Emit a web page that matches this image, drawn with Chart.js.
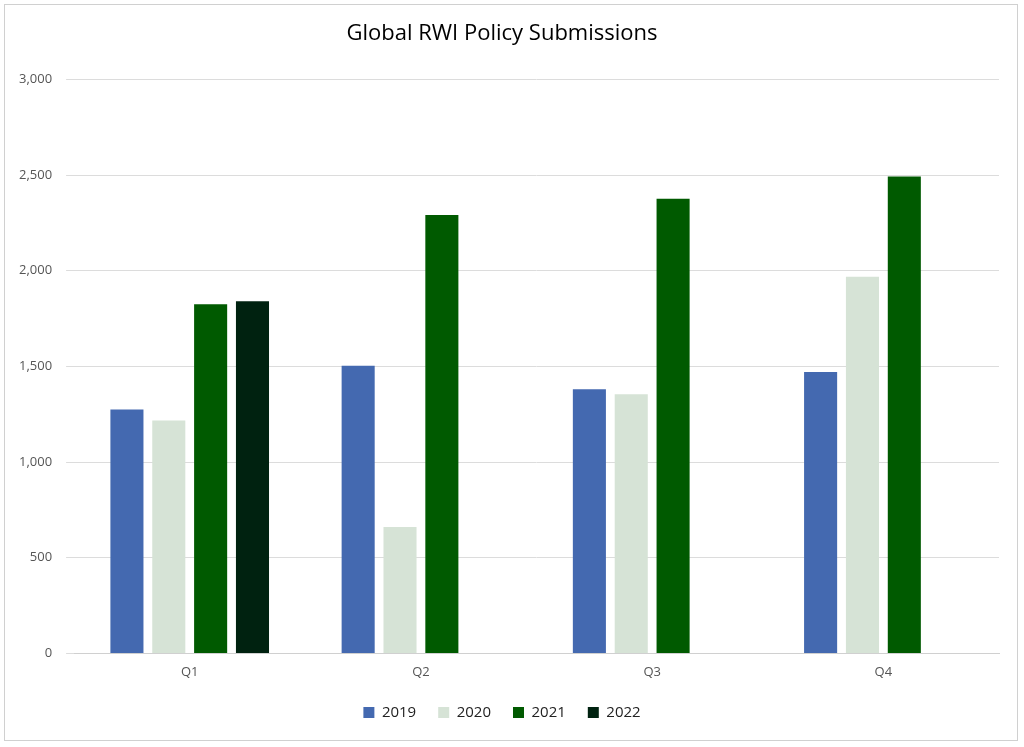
<!DOCTYPE html>
<html>
<head>
<meta charset="utf-8">
<script src="https://cdn.jsdelivr.net/npm/chart.js@4"></script>
<style>
  html, body { margin: 0; padding: 0; background: #fff; }
  #wrap { position: absolute; left: 4px; top: 4px; width: 1014px; height: 737px; border: 1px solid #d0d0d0; box-sizing: border-box; }
</style>
</head>
<body>
<div id="wrap"><canvas id="chart"></canvas></div>
<script>
// ---------------- Data ----------------
const quarters = ["Q1", "Q2", "Q3", "Q4"];
const years = ["2019", "2020", "2021", "2022"];
const values2019 = [1275, 1503, 1381, 1471];
const values2020 = [1217, 661, 1354, 1968];
const values2021 = [1825, 2291, 2376, 2492];
const values2022 = [1841, null, null, null];
const yTicks = [0, 500, 1000, 1500, 2000, 2500, 3000];

const colors = ["#4469B0", "#D6E3D6", "#005A00", "#002210"];
const series = [values2019, values2020, values2021, values2022];

// ---------------- Chart ----------------
const ctx = document.getElementById("chart").getContext("2d");
new Chart(ctx, {
  type: "bar",
  data: {
    labels: quarters,
    datasets: series.map((data, i) => ({
      label: years[i],
      data: data,
      backgroundColor: colors[i],
      categoryPercentage: 0.724,
      barPercentage: 0.79
    }))
  },
  options: {
    responsive: true,
    maintainAspectRatio: false,
    animation: false,
    layout: { padding: { left: 0, right: 18, top: 10, bottom: 10 } },
    plugins: {
      title: {
        display: true,
        text: "Global RWI Policy Submissions",
        color: "#000",
        font: { family: "Open Sans", size: 22, weight: "normal" },
        padding: { top: 6, bottom: 32 }
      },
      legend: {
        position: "bottom",
        labels: {
          boxWidth: 11, boxHeight: 11,
          color: "#222",
          font: { family: "Open Sans", size: 15 },
          padding: 22
        }
      },
      tooltip: { enabled: false }
    },
    scales: {
      x: {
        grid: { display: false },
        border: { color: "#d0d0d0" },
        ticks: { color: "#555", font: { family: "Open Sans", size: 13 } }
      },
      y: {
        min: 0, max: 3000,
        afterBuildTicks: axis => { axis.ticks = yTicks.map(v => ({ value: v })); },
        grid: { color: "#dcdcdc" },
        border: { display: false },
        ticks: {
          color: "#555",
          padding: 14,
          font: { family: "Open Sans", size: 13 },
          callback: v => v.toLocaleString("en-US")
        }
      }
    }
  }
});
</script>
</body>
</html>
